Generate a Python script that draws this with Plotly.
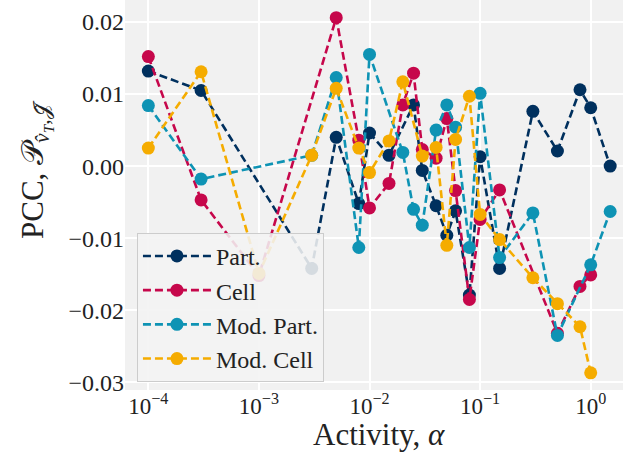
import plotly.graph_objects as go

# Activity values and Pearson correlation coefficients for each model
part_alpha = [1e-4, 3e-4, 3e-3, 5e-3, 8e-3, 1e-2, 1.5e-2, 2.5e-2, 3e-2, 4e-2,
              5e-2, 6e-2, 8e-2, 1e-1, 1.5e-1, 3e-1, 5e-1, 8e-1, 1.0, 1.5]
part_pcc = [0.0132, 0.0105, -0.0142, 0.0040, -0.0052, 0.0046, 0.0015, 0.0085, -0.0006, -0.0055,
            -0.0096, -0.0062, -0.0179, 0.0013, -0.0142, 0.0076, 0.0021, 0.0106, 0.0081, 0.0000]

cell_alpha = [1e-4, 3e-4, 1e-3, 5e-3, 8e-3, 1e-2, 1.5e-2, 2e-2, 2.5e-2, 3e-2,
              4e-2, 5e-2, 6e-2, 8e-2, 1e-1, 1.5e-1, 5e-1, 8e-1, 1.0]
cell_pcc = [0.0152, -0.0047, -0.0152, 0.0206, 0.0036, -0.0058, -0.0024, 0.0085, 0.0129, 0.0023,
            0.0011, 0.0066, -0.0034, -0.0185, -0.0074, -0.0033, -0.0232, -0.0167, -0.0151]

mod_part_alpha = [1e-4, 3e-4, 3e-3, 5e-3, 8e-3, 1e-2, 2e-2, 2.5e-2, 3e-2, 4e-2,
                  5e-2, 6e-2, 8e-2, 1e-1, 1.5e-1, 3e-1, 5e-1, 1.0, 1.5]
mod_part_pcc = [0.0084, -0.0018, 0.0015, 0.0123, -0.0113, 0.0155, 0.0019, -0.0060, -0.0082, 0.0050,
                0.0085, 0.0054, -0.0113, 0.0101, -0.0127, -0.0065, -0.0235, -0.0137, -0.0063]

mod_cell_alpha = [1e-4, 3e-4, 1e-3, 3e-3, 5e-3, 8e-3, 1e-2, 1.5e-2, 2e-2, 3e-2,
                  4e-2, 5e-2, 6e-2, 8e-2, 1e-1, 1.5e-1, 3e-1, 5e-1, 8e-1, 1.0]
mod_cell_pcc = [0.0025, 0.0131, -0.0149, 0.0015, 0.0108, 0.0025, -0.0009, 0.0035, 0.0117, 0.0014,
                0.0026, -0.0110, 0.0037, 0.0097, -0.0067, -0.0102, -0.0155, -0.0191, -0.0223, -0.0287]

series = [
    ("Part.", part_alpha, part_pcc, "#00305e"),
    ("Cell", cell_alpha, cell_pcc, "#c6074b"),
    ("Mod. Part.", mod_part_alpha, mod_part_pcc, "#0e93b4"),
    ("Mod. Cell", mod_cell_alpha, mod_cell_pcc, "#f5ac00"),
]

y_ticks = [-0.03, -0.02, -0.01, 0.0, 0.01, 0.02]

FONT = "Liberation Serif"
TEXT = "#222222"

fig = go.Figure()
for name, xs, ys, color in series:
    fig.add_trace(go.Scatter(
        x=xs, y=ys, name=name, mode="lines+markers",
        line=dict(color=color, width=2.6, dash="8px,4px"),
        marker=dict(color=color, size=13, line=dict(width=0)),
    ))

fig.update_layout(
    width=623, height=458, autosize=False,
    margin=dict(l=125, r=0, t=0, b=68),
    paper_bgcolor="white",
    plot_bgcolor="#f1f1f1",
    font=dict(family=FONT, size=23, color=TEXT),
    showlegend=True,
    legend=dict(
        x=0.024, y=0.403, xanchor="left", yanchor="top",
        bgcolor="rgba(242,242,242,0.88)",
        bordercolor="#cccccc", borderwidth=1,
        font=dict(family=FONT, size=24, color=TEXT),
        itemwidth=68,
    ),
)

fig.update_xaxes(
    type="log",
    range=[-4.211, 0.292],
    tickvals=[1e-4, 1e-3, 1e-2, 1e-1, 1],
    ticktext=["10<sup>−4</sup>", "10<sup>−3</sup>", "10<sup>−2</sup>", "10<sup>−1</sup>", "10<sup>0</sup>"],
    showgrid=True, gridcolor="white", gridwidth=1.7,
    zeroline=False, showline=False, ticks="",
    tickfont=dict(family=FONT, size=23, color=TEXT),
)
fig.update_yaxes(
    range=[-0.03108, 0.02306],
    tickvals=y_ticks,
    tickformat=".2f",
    showgrid=True, gridcolor="white", gridwidth=1.7,
    zeroline=False, showline=False, ticks="",
    tickfont=dict(family=FONT, size=24, color=TEXT),
)

# Axis titles
fig.add_annotation(
    text="Activity, <i>α</i>", xref="paper", yref="paper",
    x=0.51, y=-0.113, xanchor="center", yanchor="middle",
    showarrow=False, font=dict(family=FONT, size=31, color=TEXT),
)
fig.add_annotation(
    text="PCC, 𝒫<sub><i>v̂<sub>T</sub></i>,𝒥̂</sub>", xref="paper", yref="paper",
    x=-0.18, y=0.565, xanchor="center", yanchor="middle", textangle=-90,
    showarrow=False, font=dict(family=FONT, size=31, color=TEXT),
)

fig.write_html("out.html")
